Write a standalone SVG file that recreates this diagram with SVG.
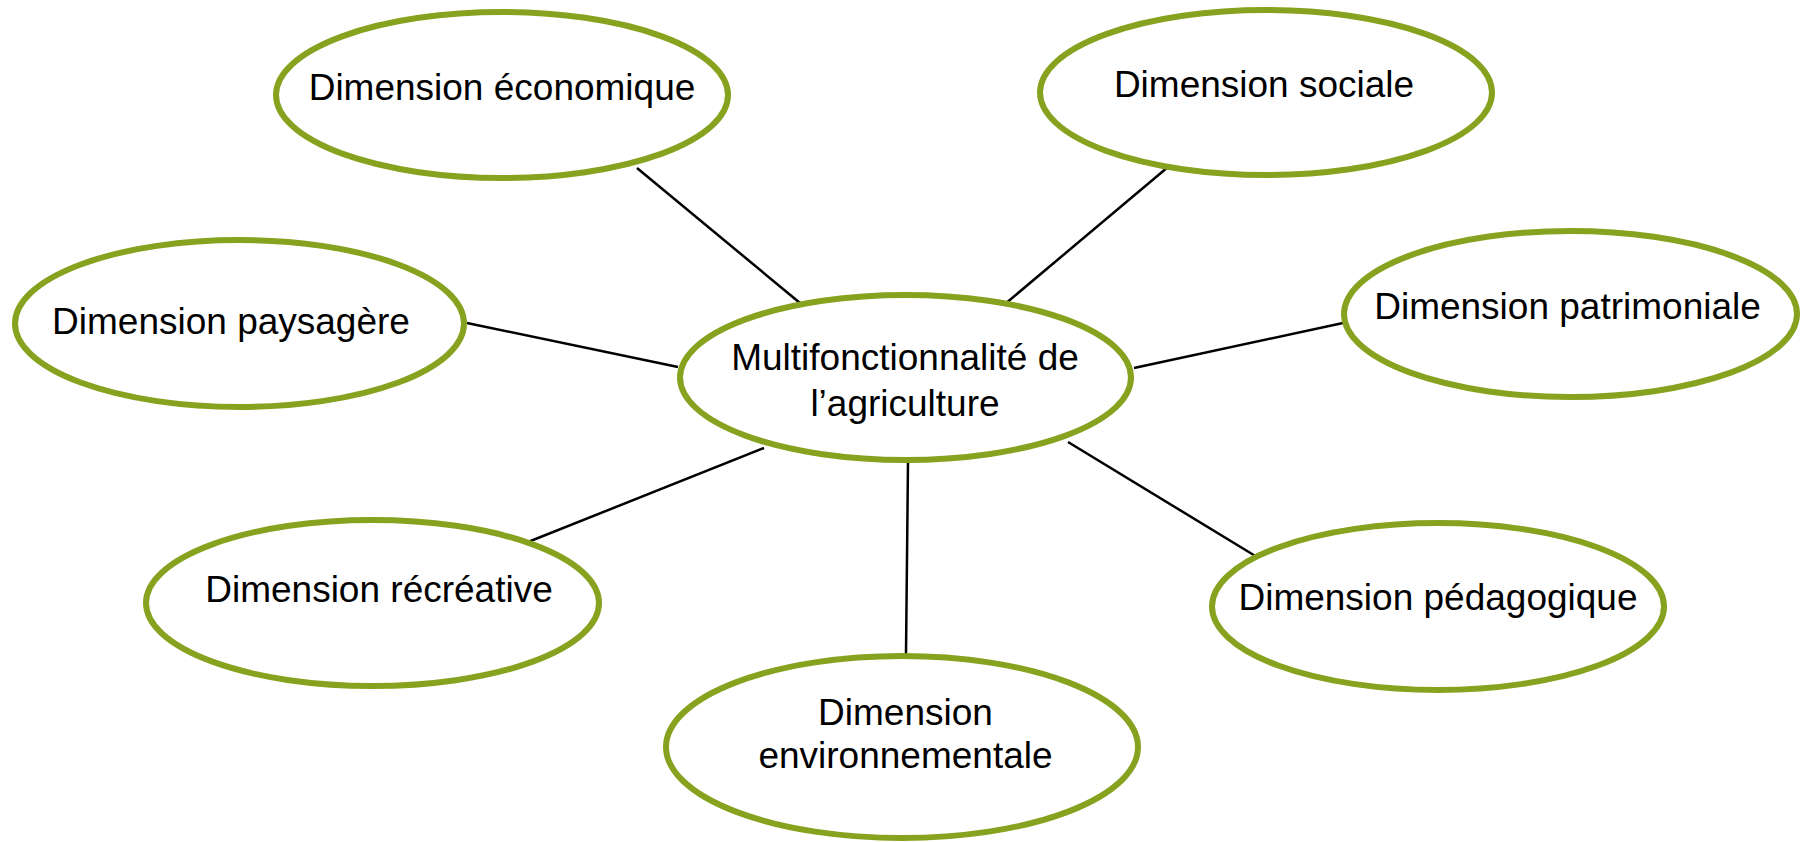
<svg xmlns="http://www.w3.org/2000/svg" width="1806" height="842" viewBox="0 0 1806 842">
<style>
.node ellipse { fill: #ffffff; stroke: #87a21f; stroke-width: 6; }
.node text { font-family: "Liberation Sans", Arial, sans-serif; font-size: 37px; fill: #000000; text-anchor: middle; }
.conn line { stroke: #000000; stroke-width: 2.5; }
</style>
<rect x="0" y="0" width="1806" height="842" fill="#ffffff"/>
<g id="connectors" class="conn">
  <line x1="637" y1="168" x2="800" y2="303"/>
  <line x1="1168" y1="167" x2="1005" y2="304"/>
  <line x1="467" y1="323" x2="678" y2="367"/>
  <line x1="1343" y1="323" x2="1134" y2="368"/>
  <line x1="528" y1="542" x2="764" y2="448"/>
  <line x1="1257" y1="557" x2="1068" y2="442"/>
  <line x1="908" y1="462" x2="906" y2="654"/>
</g>
<g id="node-economique" class="node">
  <ellipse cx="502" cy="95" rx="226" ry="83"/>
  <text x="502" y="100">Dimension économique</text>
</g>
<g id="node-sociale" class="node">
  <ellipse cx="1266" cy="92.5" rx="226" ry="82.5"/>
  <text x="1264" y="97">Dimension sociale</text>
</g>
<g id="node-paysagere" class="node">
  <ellipse cx="239.5" cy="323.5" rx="224.5" ry="83.5"/>
  <text x="231" y="334">Dimension paysagère</text>
</g>
<g id="node-patrimoniale" class="node">
  <ellipse cx="1570.5" cy="314" rx="226.5" ry="83"/>
  <text x="1567.5" y="319">Dimension patrimoniale</text>
</g>
<g id="node-centre" class="node">
  <ellipse cx="905.5" cy="377.5" rx="225.5" ry="82.5"/>
  <text x="905" y="370">Multifonctionnalité de</text>
  <text x="905" y="416">l’agriculture</text>
</g>
<g id="node-recreative" class="node">
  <ellipse cx="372.5" cy="603" rx="226.5" ry="83"/>
  <text x="379" y="602">Dimension récréative</text>
</g>
<g id="node-pedagogique" class="node">
  <ellipse cx="1438" cy="606.5" rx="226" ry="83.5"/>
  <text x="1438" y="610">Dimension pédagogique</text>
</g>
<g id="node-environnementale" class="node">
  <ellipse cx="902" cy="747" rx="236" ry="91"/>
  <text x="905.5" y="725">Dimension</text>
  <text x="905.5" y="768">environnementale</text>
</g>
</svg>
